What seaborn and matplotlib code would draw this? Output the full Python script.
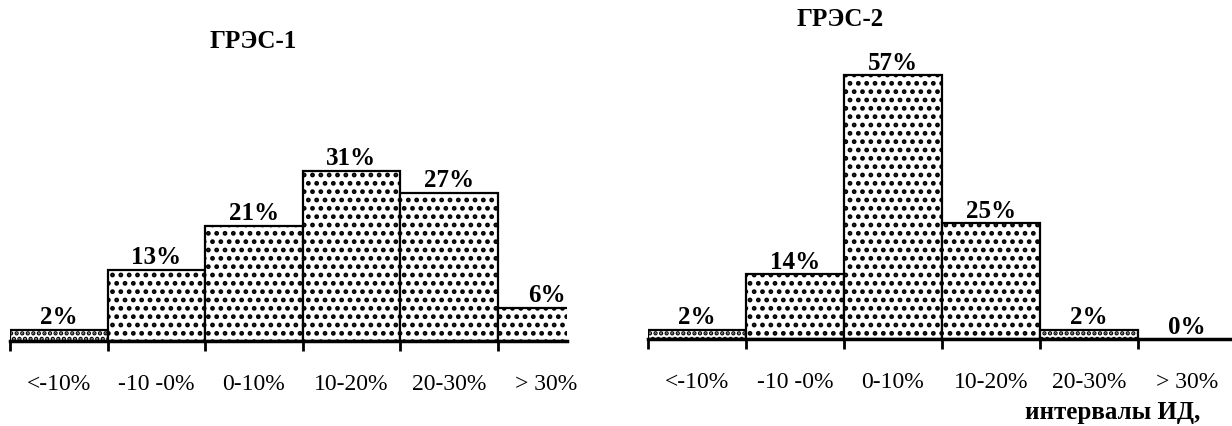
import matplotlib
matplotlib.use("Agg")
import matplotlib.pyplot as plt
import seaborn as sns
import pandas as pd

categories = ["<-10%", "-10 -0%", "0-10%", "10-20%", "20-30%", "> 30%"]
gres1_values = [2, 13, 21, 31, 27, 6]
gres2_values = [2, 14, 57, 25, 2, 0]
titles = ["ГРЭС-1", "ГРЭС-2"]
x_title = "интервалы ИД,"

sns.set_theme(style="white")
plt.rcParams["font.family"] = ["Liberation Serif", "DejaVu Serif"]
plt.rcParams["hatch.linewidth"] = 2.2
plt.rcParams["text.color"] = "black"
plt.rcParams["xtick.color"] = "black"

fig = plt.figure(figsize=(12.32, 4.27), dpi=100)
ax1 = fig.add_axes([10 / 1232, 85 / 427, 557 / 1232, 342 / 427])
ax2 = fig.add_axes([648 / 1232, 87 / 427, 584 / 1232, 340 / 427])

# hatch for every bar of each panel
panels = [
    (ax1, gres1_values, 62.4, 5.21, ["...", "..", "..", "..", "..", ".."]),
    (ax2, gres2_values, 73.4, 5.46, ["...", "..", "..", "..", "...", ".."]),
]

for ax, values, ymax, xmax, hatches in panels:
    df = pd.DataFrame({"interval": categories, "share": values})
    sns.barplot(data=df, x="interval", y="share", ax=ax, width=1.0,
                color="white", edgecolor="black", linewidth=1.6,
                saturation=1)
    for patch, h, v in zip(ax.patches, hatches, values):
        if v > 0:
            patch.set_hatch(h)
        else:
            patch.set_linewidth(0)
    for i, v in enumerate(values):
        ax.text(i, v + 0.3, f"{v}%", ha="center", va="bottom",
                fontsize=18, fontweight="bold")
    ax.set_xlim(-0.5, xmax)
    ax.set_ylim(0, ymax)
    ax.set_xlabel("")
    ax.set_ylabel("")
    ax.set_yticks([])
    ax.set_xticks(range(len(categories)))
    ax.set_xticklabels(categories, fontsize=17)
    ax.set_xticks([i - 0.5 for i in range(len(categories))], minor=True)
    ax.tick_params(axis="x", which="major", length=0, pad=23)
    ax.tick_params(axis="x", which="minor", length=7, width=2,
                   direction="out", color="black", bottom=True)
    for side in ["left", "right", "top"]:
        ax.spines[side].set_visible(False)
    ax.spines["bottom"].set_linewidth(2.5)
    ax.spines["bottom"].set_color("black")
    ax.patch.set_alpha(0)

fig.text(253 / 1232, 1 - 42 / 427, titles[0], ha="center", va="center",
         fontsize=18, fontweight="bold")
fig.text(840 / 1232, 1 - 20 / 427, titles[1], ha="center", va="center",
         fontsize=18, fontweight="bold")
fig.text(1113 / 1232, 1 - 413 / 427, x_title, ha="center", va="center",
         fontsize=18, fontweight="bold")

fig.savefig("out.png", dpi=100)
